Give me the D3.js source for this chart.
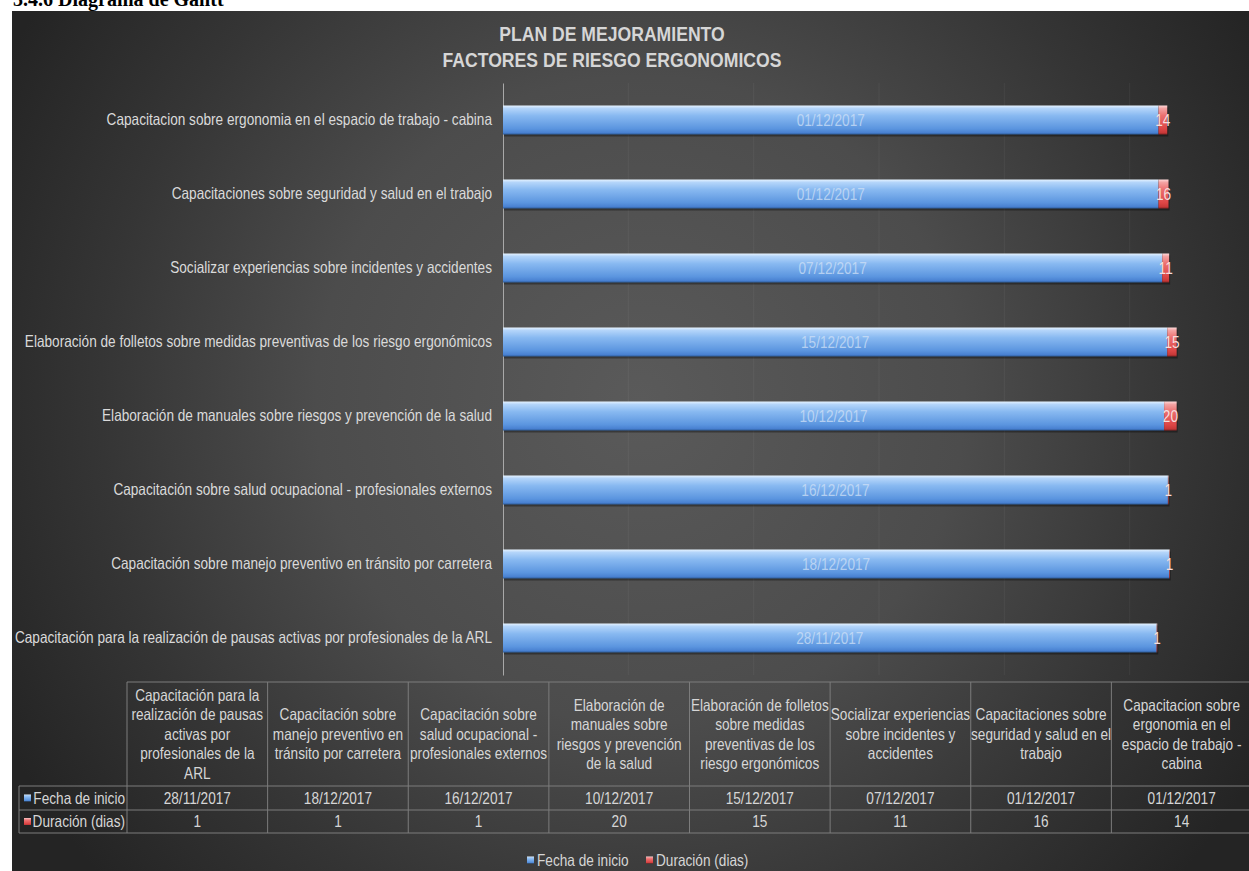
<!DOCTYPE html>
<html>
<head>
<meta charset="utf-8">
<script src="https://cdn.jsdelivr.net/npm/d3@7"></script>
<style>
body { margin: 0; background: #fff; }
svg text { font-family: "Liberation Sans", Arial, sans-serif; }
</style>
</head>
<body>
<svg id="chart" width="1249" height="871"></svg>
<script>
// data, first category is drawn at the bottom (Excel bar chart order)
var categories = [
    "Capacitación para la realización de pausas activas por profesionales de la ARL",
    "Capacitación sobre manejo preventivo en tránsito por carretera",
    "Capacitación sobre salud ocupacional - profesionales externos",
    "Elaboración de manuales sobre riesgos y prevención de la salud",
    "Elaboración de folletos sobre medidas preventivas de los riesgo ergonómicos",
    "Socializar experiencias sobre incidentes y accidentes",
    "Capacitaciones sobre seguridad y salud en el trabajo",
    "Capacitacion sobre ergonomia en el espacio de trabajo - cabina"
];
var startDates = ["28/11/2017", "18/12/2017", "16/12/2017", "10/12/2017", "15/12/2017", "07/12/2017", "01/12/2017", "01/12/2017"];
var durations = [1, 1, 1, 20, 15, 11, 16, 14];
var seriesNames = ["Fecha de inicio", "Duración (dias)"];
// wrapped column headers of the data table
var headerLines = [
    ["Capacitación para la", "realización de pausas", "activas por", "profesionales de la", "ARL"],
    ["Capacitación sobre", "manejo preventivo en", "tránsito por carretera"],
    ["Capacitación sobre", "salud ocupacional -", "profesionales externos"],
    ["Elaboración de", "manuales sobre", "riesgos y prevención", "de la salud"],
    ["Elaboración de folletos", "sobre medidas", "preventivas de los", "riesgo ergonómicos"],
    ["Socializar experiencias", "sobre incidentes y", "accidentes"],
    ["Capacitaciones sobre", "seguridad y salud en el", "trabajo"],
    ["Capacitacion sobre", "ergonomia en el", "espacio de trabajo -", "cabina"]
];
var titleLines = ["PLAN DE MEJORAMIENTO", "FACTORES DE RIESGO ERGONOMICOS"];
// hidden value axis (Excel date serials)
var axisMin = 42024, axisMax = 43224, axisStep = 200;

var FS = "16.5px";   // Arial Narrow look: regular font squeezed horizontally
var K = 0.826;

var parse = d3.utcParse("%d/%m/%Y");
var serial = function(s) { return (parse(s) - Date.UTC(1899, 11, 30)) / 864e5; };

var data = categories.map(function(c, i) {
    return {name: c, start: startDates[i], s: serial(startDates[i]), dur: durations[i]};
});

// squeeze text horizontally, keeping its anchor point in place
var narrow = function(sel, k) {
    sel.each(function() {
        var t = d3.select(this);
        t.attr("x", (+t.attr("x") || 0) / k).attr("transform", "scale(" + k + ",1)");
        t.selectAll("tspan").each(function() {
            var s = d3.select(this);
            if (s.attr("x") != null) s.attr("x", +s.attr("x") / k);
        });
    });
};

var svg = d3.select("#chart");
var defs = svg.append("defs");

var bg = defs.append("radialGradient").attr("id", "bg")
    .attr("gradientUnits", "userSpaceOnUse")
    .attr("cx", 640).attr("cy", 400).attr("r", 720);
bg.append("stop").attr("offset", 0).attr("stop-color", "#5a5a5a");
bg.append("stop").attr("offset", 0.45).attr("stop-color", "#4c4c4c");
bg.append("stop").attr("offset", 0.75).attr("stop-color", "#353535");
bg.append("stop").attr("offset", 1).attr("stop-color", "#242424");

var gBlue = defs.append("linearGradient").attr("id", "blue").attr("x1", 0).attr("x2", 0).attr("y1", 0).attr("y2", 1);
[[0, "#e6f3ff"], [0.1, "#b4d5fa"], [0.35, "#88b9f1"], [0.8, "#5b95df"], [0.93, "#4a82d2"], [1, "#2f5f9e"]].forEach(function(s) {
    gBlue.append("stop").attr("offset", s[0]).attr("stop-color", s[1]);
});
var gRed = defs.append("linearGradient").attr("id", "red").attr("x1", 0).attr("x2", 0).attr("y1", 0).attr("y2", 1);
[[0, "#ffd9d9"], [0.1, "#f4a3a3"], [0.35, "#ec6f6f"], [0.8, "#dd4646"], [0.93, "#c93a3a"], [1, "#8f2525"]].forEach(function(s) {
    gRed.append("stop").attr("offset", s[0]).attr("stop-color", s[1]);
});

// header text above the chart box (cut off in the original)
svg.append("text")
    .attr("x", 13).attr("y", 6)
    .style("font-family", "'Liberation Serif', serif")
    .style("font-weight", "bold")
    .style("font-size", "20px")
    .attr("fill", "#000")
    .text("3.4.6 Diagrama de Gantt");

svg.append("rect")
    .attr("x", 12).attr("y", 11)
    .attr("width", 1249 - 12).attr("height", 871 - 11)
    .attr("fill", "url(#bg)");

// title
svg.append("g").selectAll("text")
    .data(titleLines)
    .enter().append("text")
    .attr("x", 612)
    .attr("y", function(d, i) { return 41 + i * 26; })
    .attr("text-anchor", "middle")
    .attr("fill", "#d6d6d6")
    .style("font-weight", "bold")
    .style("font-size", "20px")
    .text(function(d) { return d; })
    .call(narrow, 0.88);

var x = d3.scaleLinear().domain([axisMin, axisMax]).range([503, 1255]);
var y = d3.scaleBand().domain(categories).range([675, 83]).paddingInner(0.608).paddingOuter(0.304);

// faint gridlines
svg.append("g").selectAll("line")
    .data(d3.range(axisMin + axisStep, axisMax + 1, axisStep))
    .enter().append("line")
    .attr("x1", function(d) { return x(d); }).attr("x2", function(d) { return x(d); })
    .attr("y1", 83).attr("y2", 675)
    .attr("stroke", "#ffffff").attr("stroke-opacity", 0.05);

// category axis
var yAxis = svg.append("g")
    .attr("transform", "translate(503,0)")
    .call(d3.axisLeft(y).tickSize(0).tickPadding(11));
yAxis.select(".domain").attr("stroke", "#a8a8a8").attr("stroke-width", 1);
yAxis.selectAll("text")
    .attr("fill", "#dadada")
    .style("font-size", FS)
    .call(narrow, K);

var bars = svg.append("g");
var bh = y.bandwidth();

// shadow under bars
bars.selectAll(".shadow")
    .data(data)
    .enter().append("rect")
    .attr("x", x(axisMin) + 1)
    .attr("y", function(d) { return y(d.name) + 2; })
    .attr("width", function(d) { return x(d.s + d.dur) - x(axisMin); })
    .attr("height", bh)
    .attr("fill", "#000").attr("opacity", 0.35);

bars.selectAll(".bar-start")
    .data(data)
    .enter().append("rect")
    .attr("class", "bar-start")
    .attr("x", x(axisMin))
    .attr("y", function(d) { return y(d.name); })
    .attr("width", function(d) { return x(d.s) - x(axisMin); })
    .attr("height", bh)
    .attr("fill", "url(#blue)");

bars.selectAll(".bar-dur")
    .data(data)
    .enter().append("rect")
    .attr("class", "bar-dur")
    .attr("x", function(d) { return x(d.s); })
    .attr("y", function(d) { return y(d.name); })
    .attr("width", function(d) { return x(d.s + d.dur) - x(d.s); })
    .attr("height", bh)
    .attr("fill", "url(#red)");

// data labels
bars.selectAll(".lbl-start")
    .data(data)
    .enter().append("text")
    .attr("x", function(d) { return (x(axisMin) + x(d.s)) / 2; })
    .attr("y", function(d) { return y(d.name) + bh / 2; })
    .attr("dy", "0.35em")
    .attr("text-anchor", "middle")
    .attr("fill", "#cfe0f6").attr("fill-opacity", 0.75)
    .style("font-size", FS)
    .text(function(d) { return d.start; })
    .call(narrow, K);

bars.selectAll(".lbl-dur")
    .data(data)
    .enter().append("text")
    .attr("x", function(d) { return (x(d.s) + x(d.s + d.dur)) / 2; })
    .attr("y", function(d) { return y(d.name) + bh / 2; })
    .attr("dy", "0.35em")
    .attr("text-anchor", "middle")
    .attr("fill", "#f6dede")
    .style("font-size", FS)
    .text(function(d) { return d.dur; })
    .call(narrow, K);

// data table
var col = d3.scaleBand().domain(categories).range([127, 1252]);
var tTop = 682, tHead = 786, tRow1 = 810, tBot = 833;
var table = svg.append("g").attr("stroke", "#7c7c7c").attr("stroke-width", 1);
table.append("line").attr("x1", 127).attr("x2", 1252).attr("y1", tTop).attr("y2", tTop);
[tHead, tRow1, tBot].forEach(function(yy) {
    table.append("line").attr("x1", 19).attr("x2", 1252).attr("y1", yy).attr("y2", yy);
});
table.append("line").attr("x1", 19).attr("x2", 19).attr("y1", tHead).attr("y2", tBot);
table.selectAll(".vl")
    .data(categories)
    .enter().append("line")
    .attr("x1", function(d) { return col(d); }).attr("x2", function(d) { return col(d); })
    .attr("y1", tTop).attr("y2", tBot);

var lineH = 19.5;
var heads = svg.append("g").selectAll("text")
    .data(data)
    .enter().append("text")
    .attr("text-anchor", "middle")
    .attr("fill", "#d6d6d6")
    .style("font-size", FS);
heads.each(function(d, i) {
    var lines = headerLines[i];
    var y0 = (tTop + tHead) / 2 - (lines.length - 1) * lineH / 2;
    d3.select(this).selectAll("tspan")
        .data(lines)
        .enter().append("tspan")
        .attr("x", col(d.name) + col.bandwidth() / 2)
        .attr("y", function(l, j) { return y0 + j * lineH; })
        .attr("dy", "0.35em")
        .text(function(l) { return l; });
});
heads.call(narrow, K);

var rowsY = [(tHead + tRow1) / 2, (tRow1 + tBot) / 2];
var tbody = svg.append("g");
tbody.selectAll(".c1")
    .data(data)
    .enter().append("text")
    .attr("x", function(d) { return col(d.name) + col.bandwidth() / 2; })
    .attr("y", rowsY[0]).attr("dy", "0.35em")
    .attr("text-anchor", "middle").attr("fill", "#d6d6d6")
    .style("font-size", FS)
    .text(function(d) { return d.start; })
    .call(narrow, K);
tbody.selectAll(".c2")
    .data(data)
    .enter().append("text")
    .attr("x", function(d) { return col(d.name) + col.bandwidth() / 2; })
    .attr("y", rowsY[1]).attr("dy", "0.35em")
    .attr("text-anchor", "middle").attr("fill", "#d6d6d6")
    .style("font-size", FS)
    .text(function(d) { return d.dur; })
    .call(narrow, K);

var keyFill = ["url(#blue)", "url(#red)"];
seriesNames.forEach(function(n, i) {
    tbody.append("rect")
        .attr("x", 24).attr("y", rowsY[i] - 3.5)
        .attr("width", 7).attr("height", 7)
        .attr("fill", keyFill[i]);
    tbody.append("text")
        .attr("x", 125).attr("y", rowsY[i]).attr("dy", "0.35em")
        .attr("text-anchor", "end").attr("fill", "#d6d6d6")
        .style("font-size", FS)
        .text(n)
        .call(narrow, K);
});

// legend
var legend = svg.append("g").attr("transform", "translate(0,860)");
var legX = [527, 646];
seriesNames.forEach(function(n, i) {
    legend.append("rect")
        .attr("x", legX[i]).attr("y", -3.5)
        .attr("width", 7).attr("height", 7)
        .attr("fill", keyFill[i]);
    legend.append("text")
        .attr("x", legX[i] + 10).attr("y", 0).attr("dy", "0.35em")
        .attr("fill", "#d6d6d6")
        .style("font-size", FS)
        .text(n)
        .call(narrow, K);
});
</script>
</body>
</html>
